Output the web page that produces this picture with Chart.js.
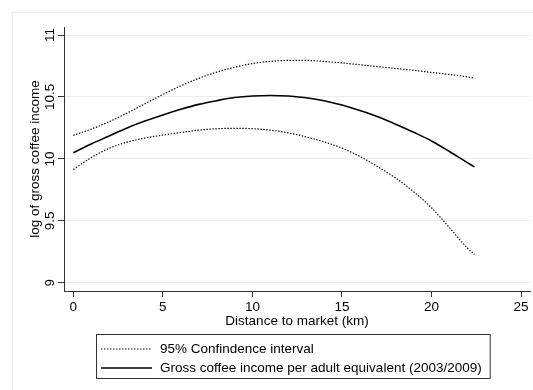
<!DOCTYPE html>
<html>
<head>
<script src="https://cdn.jsdelivr.net/npm/chart.js@4.4.0/dist/chart.umd.min.js"></script>
<style>
  body { margin: 0; background: #fff; }
  canvas { display: block; }
</style>
</head>
<body>
<canvas id="incomeChart" width="533" height="390"></canvas>
<script>
// distance to market (km) and fitted log income with its 95% band
var distance = [0, 1, 2, 3, 4, 5, 6, 7, 8, 9, 10, 11, 12, 13, 14, 15, 16, 17, 18, 19, 20, 21, 22, 22.4];
var incomeFit = [10.05, 10.12, 10.185, 10.25, 10.305, 10.355, 10.40, 10.44, 10.47, 10.495, 10.508, 10.512,
                 10.508, 10.493, 10.47, 10.435, 10.39, 10.34, 10.28, 10.215, 10.145, 10.06, 9.97, 9.935];
var ciUpper = [10.19, 10.24, 10.30, 10.37, 10.445, 10.52, 10.59, 10.65, 10.70, 10.74, 10.77, 10.787,
               10.795, 10.795, 10.787, 10.775, 10.76, 10.745, 10.73, 10.715, 10.698, 10.682, 10.662, 10.653];
var ciLower = [9.915, 10.01, 10.085, 10.135, 10.168, 10.192, 10.213, 10.232, 10.243, 10.247, 10.244, 10.232,
               10.21, 10.178, 10.137, 10.087, 10.02, 9.937, 9.845, 9.735, 9.605, 9.445, 9.28, 9.229];
var xTicks = [0, 5, 10, 15, 20, 25];
var yTicks = [9, 9.5, 10, 10.5, 11];
var legendLabels = ['95% Confindence interval', 'Gross coffee income per adult equivalent (2003/2009)'];

var FONT = '"Liberation Sans", Arial, sans-serif';
var FONT_SIZE = 13.5;
var GRID = '#e6eef0';
var AXIS = '#333333';

function toPoints(ys) {
  return distance.map(function (d, i) { return { x: d, y: ys[i] }; });
}

function dottedSet(label, ys) {
  return {
    label: label, data: toPoints(ys),
    borderColor: '#000', borderWidth: 1.2, borderDash: [1.4, 1.6],
    pointRadius: 0, cubicInterpolationMode: 'monotone', fill: false
  };
}

// outer frame, rotated y tick labels and the boxed legend
var decor = {
  id: 'decor',
  beforeDraw: function (chart) {
    var ctx = chart.ctx;
    ctx.save();
    ctx.fillStyle = '#fff';
    ctx.fillRect(0, 0, chart.width, chart.height);
    ctx.strokeStyle = GRID;
    ctx.lineWidth = 1;
    ctx.strokeRect(12.5, 12.5, chart.width + 20, chart.height + 20);
    ctx.restore();
  },
  afterDraw: function (chart) {
    var ctx = chart.ctx;
    var y = chart.scales.y;
    ctx.save();
    ctx.font = FONT_SIZE + 'px ' + FONT;
    ctx.fillStyle = '#000';
    ctx.textAlign = 'center';
    ctx.textBaseline = 'middle';
    y.ticks.forEach(function (t) {
      ctx.save();
      ctx.translate(50, y.getPixelForValue(t.value));
      ctx.rotate(-Math.PI / 2);
      ctx.fillText(String(t.value), 0, 0);
      ctx.restore();
    });

    // legend
    var left = 96, top = 334, textX = 160;
    var textW = Math.max.apply(null, legendLabels.map(function (s) { return ctx.measureText(s).width; }));
    var boxW = textX - left + textW + 8;
    ctx.strokeStyle = AXIS;
    ctx.lineWidth = 1;
    ctx.strokeRect(left + 0.5, top + 0.5, boxW, 44);
    var rows = [349, 368];
    ctx.strokeStyle = '#000';
    ctx.lineWidth = 1.2;
    ctx.setLineDash([1.4, 1.6]);
    ctx.beginPath(); ctx.moveTo(101, rows[0]); ctx.lineTo(152, rows[0]); ctx.stroke();
    ctx.setLineDash([]);
    ctx.lineWidth = 1.6;
    ctx.beginPath(); ctx.moveTo(101, rows[1]); ctx.lineTo(152, rows[1]); ctx.stroke();
    ctx.textAlign = 'left';
    ctx.fillText(legendLabels[0], textX, rows[0]);
    ctx.fillText(legendLabels[1], textX, rows[1]);
    ctx.restore();
  }
};

new Chart(document.getElementById('incomeChart'), {
  type: 'line',
  data: {
    datasets: [
      dottedSet(legendLabels[0], ciUpper),
      dottedSet(legendLabels[0], ciLower),
      {
        label: legendLabels[1], data: toPoints(incomeFit),
        borderColor: '#000', borderWidth: 1.6,
        pointRadius: 0, cubicInterpolationMode: 'monotone', fill: false
      }
    ]
  },
  options: {
    responsive: false,
    animation: false,
    layout: { padding: { top: 27, right: 3, bottom: 60, left: 0 } },
    plugins: { legend: { display: false }, tooltip: { enabled: false } },
    scales: {
      x: {
        type: 'linear', min: -0.52, max: 25.5,
        afterBuildTicks: function (s) { s.ticks = xTicks.map(function (v) { return { value: v }; }); },
        afterFit: function (s) { s.height = 39; },
        grid: { display: true, drawOnChartArea: false, drawTicks: true, tickLength: 6, tickColor: AXIS },
        border: { display: true, color: AXIS, width: 1 },
        ticks: { color: '#000', padding: 2, maxRotation: 0, font: { family: FONT, size: FONT_SIZE } },
        title: {
          display: true, text: 'Distance to market (km)', color: '#000',
          padding: { top: 0, bottom: 0.5 }, font: { family: FONT, size: FONT_SIZE }
        }
      },
      y: {
        type: 'linear', min: 8.933, max: 11.065,
        afterBuildTicks: function (s) { s.ticks = yTicks.map(function (v) { return { value: v }; }); },
        afterFit: function (s) { s.width = 64; },
        grid: { color: GRID, lineWidth: 1, drawTicks: true, tickLength: 6, tickColor: AXIS },
        border: { display: true, color: AXIS, width: 1 },
        ticks: { display: false },
        title: {
          display: true, text: 'log of gross coffee income', color: '#000',
          padding: { top: 27, bottom: 0 }, font: { family: FONT, size: FONT_SIZE }
        }
      }
    }
  },
  plugins: [decor]
});
</script>
</body>
</html>
